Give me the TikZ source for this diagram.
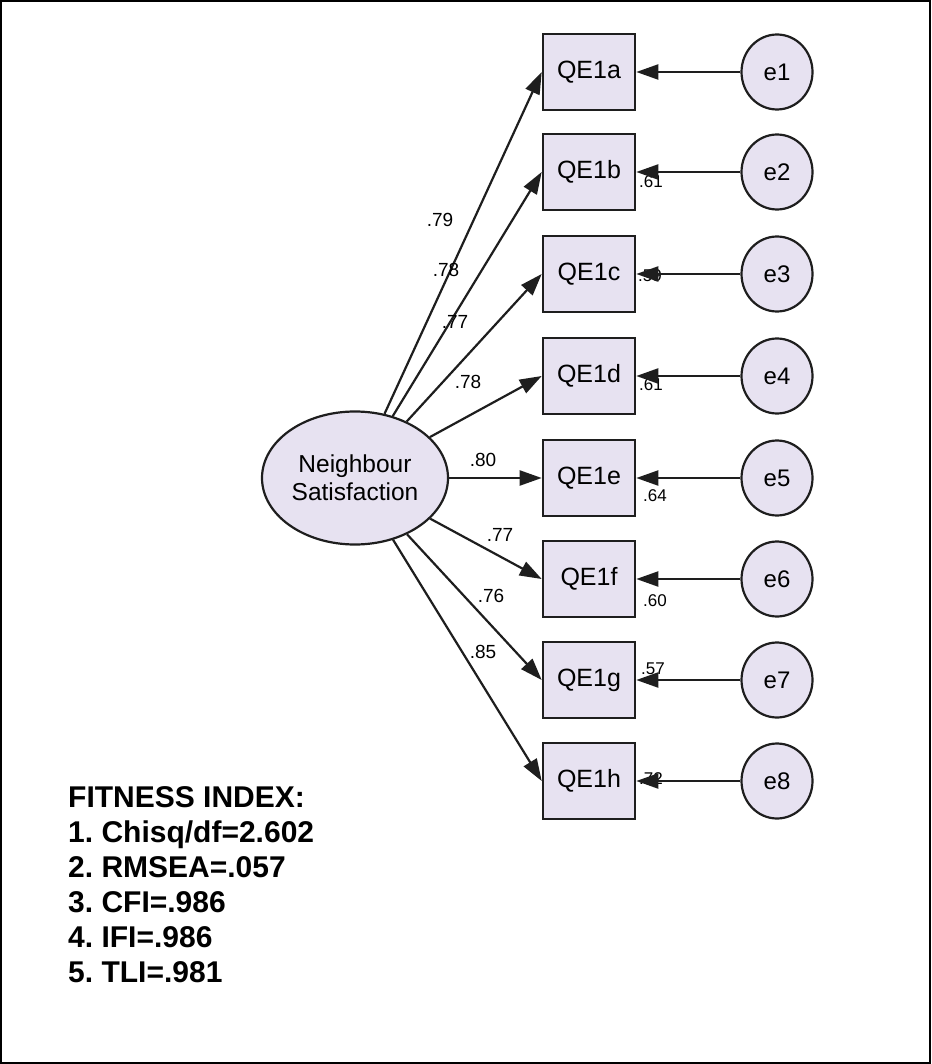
\documentclass[tikz,border=0pt]{standalone}
\usepackage{fontspec}
\setmainfont{Liberation Sans}
\usetikzlibrary{shapes.geometric,arrows.meta}

\definecolor{nodefill}{RGB}{231,226,241}
\definecolor{edgeink}{RGB}{30,30,30}

\begin{document}
\frenchspacing
\begin{tikzpicture}[x=1pt,y=-1pt,
  obs/.style={draw=edgeink,line width=2.6pt,fill=nodefill,minimum width=92pt,
    minimum height=76pt,inner sep=0pt,font=\fontsize{25}{29}\selectfont},
  err/.style={ellipse,draw=edgeink,line width=2.2pt,fill=nodefill,minimum width=71pt,
    minimum height=75pt,inner sep=0pt,font=\fontsize{24}{28}\selectfont},
  lat/.style={ellipse,draw=edgeink,line width=2.2pt,fill=nodefill,minimum width=186pt,
    minimum height=133pt,inner sep=0pt,align=center,font=\fontsize{24.5}{28}\selectfont},
  load/.style={line width=2.2pt,draw=edgeink,-{Triangle[length=22pt,width=15pt]}},
  coef/.style={inner sep=0pt,font=\fontsize{19}{19}\selectfont},
  rsq/.style={inner sep=0pt,font=\fontsize{17}{17}\selectfont},
  fitline/.style={anchor=base west,inner sep=0pt,font=\bfseries\fontsize{30}{30}\selectfont}]

% canvas and outer frame
\useasboundingbox (0,0) rectangle (931,1064);
\draw[line width=2pt] (1,1) rectangle (930,1063);

% latent factor
\node[lat] (ns) at (355,478) {Neighbour\\Satisfaction};

% observed indicators
\node[obs] (qa) at (589,72)  {QE1a};
\node[obs] (qb) at (589,172) {QE1b};
\node[obs] (qc) at (589,274) {QE1c};
\node[obs] (qd) at (589,376) {QE1d};
\node[obs] (qe) at (589,478) {QE1e};
\node[obs] (qf) at (589,579) {QE1f};
\node[obs] (qg) at (589,680) {QE1g};
\node[obs] (qh) at (589,781) {QE1h};

% error terms
\node[err] (e1) at (777,72)  {e1};
\node[err] (e2) at (777,172) {e2};
\node[err] (e3) at (777,274) {e3};
\node[err] (e4) at (777,376) {e4};
\node[err] (e5) at (777,478) {e5};
\node[err] (e6) at (777,579) {e6};
\node[err] (e7) at (777,680) {e7};
\node[err] (e8) at (777,781) {e8};

% squared multiple correlations beside the indicators
\node[rsq] (rb) at (651,182) {.61};
\node[rsq] (rc) at (650,276) {.59};
\node[rsq] (rd) at (651,385) {.61};
\node[rsq] (re) at (655,496) {.64};
\node[rsq] (rf) at (655,601) {.60};
\node[rsq] (rg) at (653,669) {.57};
\node[rsq] (rh) at (651,779) {.72};

% factor loadings
\foreach \q in {qa,qb,qc,qd,qe,qf,qg,qh}
  \draw[load] (ns) -- (\q.west);

% error paths
\foreach \e/\q in {e1/qa,e2/qb,e3/qc,e4/qd,e5/qe,e6/qf,e7/qg,e8/qh}
  \draw[load] (\e.west) -- (\q.east);

% standardized loading values
\node[coef] (la) at (440,220) {.79};
\node[coef] (lb) at (446,270) {.78};
\node[coef] (lc) at (455,322) {.77};
\node[coef] (ld) at (468,382) {.78};
\node[coef] (le) at (483,460) {.80};
\node[coef] (lf) at (500,535) {.77};
\node[coef] (lg) at (491,596) {.76};
\node[coef] (lh) at (483,652) {.85};

% model fit summary
\node[fitline] (fit0) at (68,807) {FITNESS INDEX:};
\node[fitline] (fit1) at (68,842) {1. Chisq/df=2.602};
\node[fitline] (fit2) at (68,877) {2. RMSEA=.057};
\node[fitline] (fit3) at (68,912) {3. CFI=.986};
\node[fitline] (fit4) at (68,947) {4. IFI=.986};
\node[fitline] (fit5) at (68,982) {5. TLI=.981};
\end{tikzpicture}
\end{document}
